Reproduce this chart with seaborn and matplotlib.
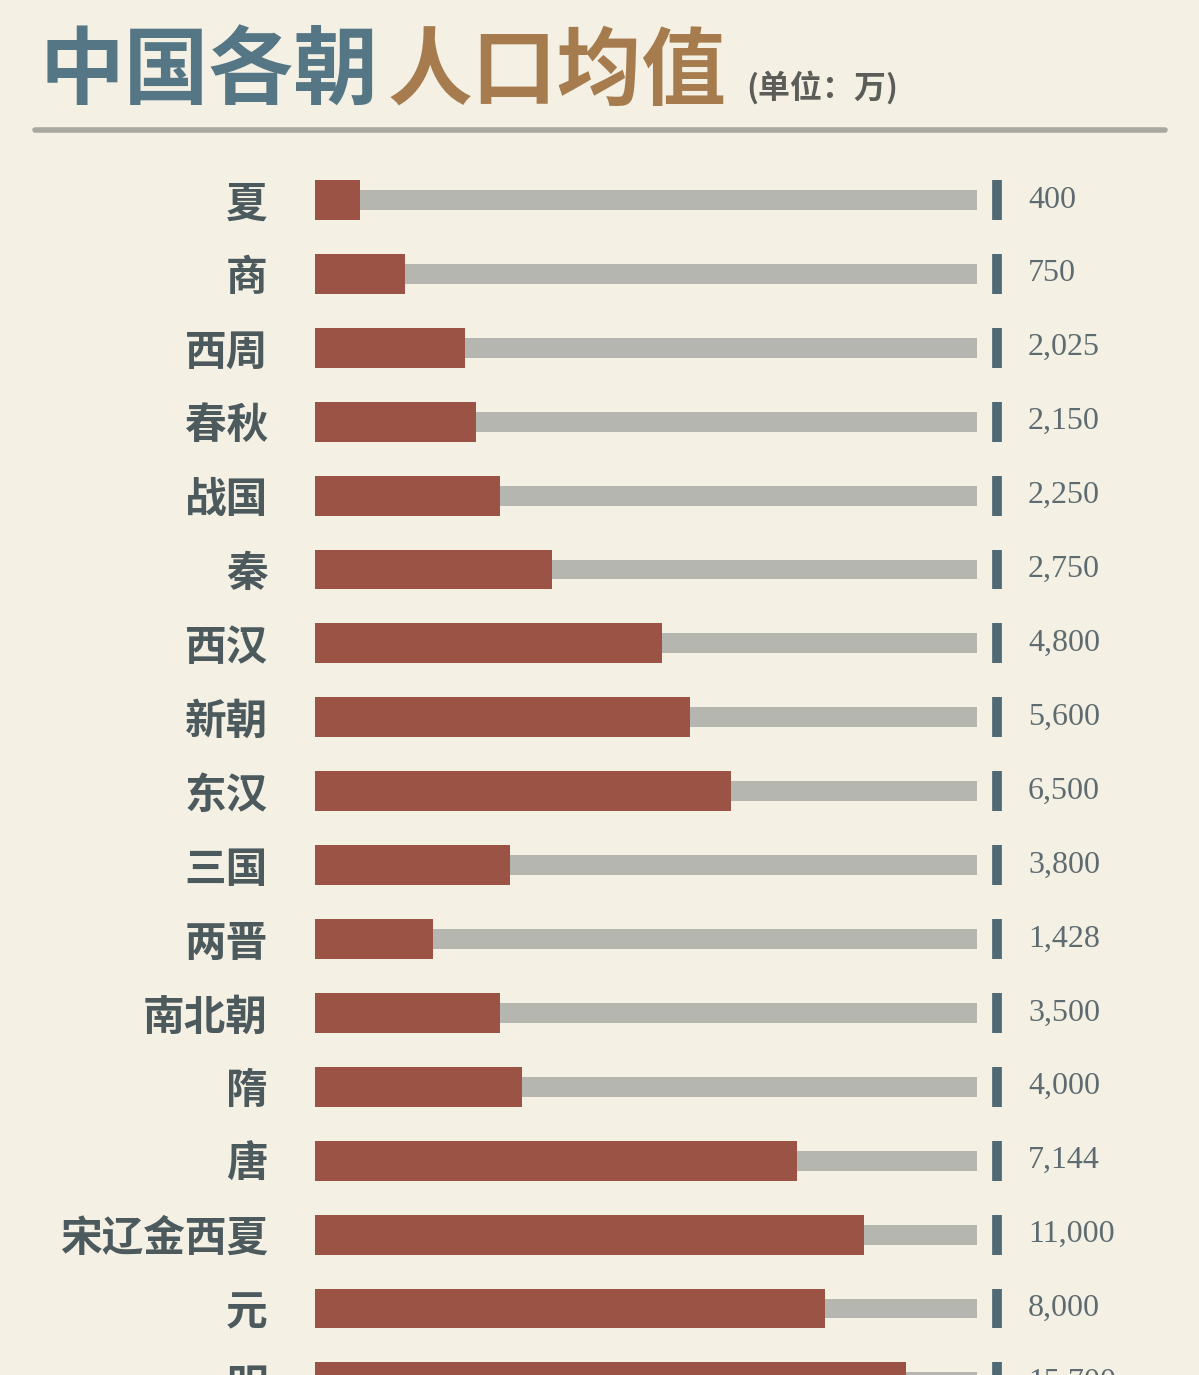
import matplotlib
matplotlib.use("Agg")
import matplotlib.pyplot as plt
import pandas as pd
import seaborn as sns

# dynasties top to bottom, average population (万) as labelled
dynasties = ["夏", "商", "西周", "春秋", "战国", "秦", "西汉", "新朝", "东汉",
             "三国", "两晋", "南北朝", "隋", "唐", "宋辽金西夏", "元", "明"]
population = [400, 750, 2025, 2150, 2250, 2750, 4800, 5600, 6500,
              3800, 1428, 3500, 4000, 7144, 11000, 8000, 15700]
# how far the red bar fills the grey track (%)
bar_fill_pct = [6.8, 13.6, 22.7, 24.3, 27.9, 35.8, 52.4, 56.6, 62.8,
                29.5, 17.8, 27.9, 31.3, 72.8, 82.9, 77.0, 89.3]
track_pct = [100] * len(dynasties)

BG = "#F4F1E4"
RED = "#9A5345"
GREY = "#B6B6B0"
SLATE = "#557785"
GOLD = "#A67C4E"
LABEL = "#4C5A5E"

sns.set_theme(style="white")
plt.rcParams["font.family"] = ["Noto Sans CJK SC", "DejaVu Sans"]

df = pd.DataFrame({"dynasty": dynasties, "pop": population,
                   "fill": bar_fill_pct, "track": track_pct})

W, H = 1199, 1375
fig = plt.figure(figsize=(W / 100, H / 100), dpi=100, facecolor=BG)

# chart area, runs past the bottom edge so the last row is cut off
left, right = 315, W
top, bottom = 160, H + 40
ax = fig.add_axes([left / W, 1 - bottom / H, (right - left) / W, (bottom - top) / H])
ax.set_facecolor("none")

# title
t1 = fig.text(40 / W, 1 - 98 / H, "中国各朝", fontsize=61, fontweight="bold",
              color=SLATE, va="baseline")
t2 = ax.annotate("人口均值", xy=(1, 0), xycoords=t1, xytext=(6, 0),
                 textcoords="offset points", fontsize=61, fontweight="bold",
                 color=GOLD, va="bottom", annotation_clip=False)
ax.annotate("(单位：万)", xy=(1, 0), xycoords=t2, xytext=(14, 8),
            textcoords="offset points", fontsize=23, fontweight="bold",
            color="#5C5C58", va="bottom", annotation_clip=False)
fig.add_artist(plt.Line2D([35 / W, 1165 / W], [1 - 130 / H, 1 - 130 / H],
                          color="#A9A9A2", lw=4))

track_px = 662
sns.barplot(data=df, x="track", y="dynasty", orient="h", width=0.27,
            color=GREY, saturation=1, linewidth=0, ax=ax)
sns.barplot(data=df, x="fill", y="dynasty", orient="h", width=0.54,
            color=RED, saturation=1, linewidth=0, ax=ax)

row_px = 73.9
first_px = 200
ax.set_ylim((bottom - first_px) / row_px, (top - first_px) / row_px)
ax.set_xlim(0, 100 * (right - left) / track_px)

tick_x = 100 * (997 - left) / track_px
text_x = 100 * (1028 - left) / track_px
ax.vlines([tick_x] * len(dynasties), [i - 0.27 for i in range(len(dynasties))],
          [i + 0.27 for i in range(len(dynasties))], color="#4F6A75", lw=7)
for i, v in enumerate(population):
    ax.text(text_x, i, f"{v:,}", va="center", ha="left", fontsize=23,
            family="Liberation Serif", color="#5E6B70", clip_on=False)

ax.set_xlabel("")
ax.set_ylabel("")
ax.set_xticks([])
ax.tick_params(axis="y", length=0, pad=34)
for lab in ax.get_yticklabels():
    lab.set_fontsize(30)
    lab.set_fontweight("bold")
    lab.set_color(LABEL)
sns.despine(ax=ax, left=True, bottom=True)

fig.savefig("out.png", dpi=100, facecolor=BG)
